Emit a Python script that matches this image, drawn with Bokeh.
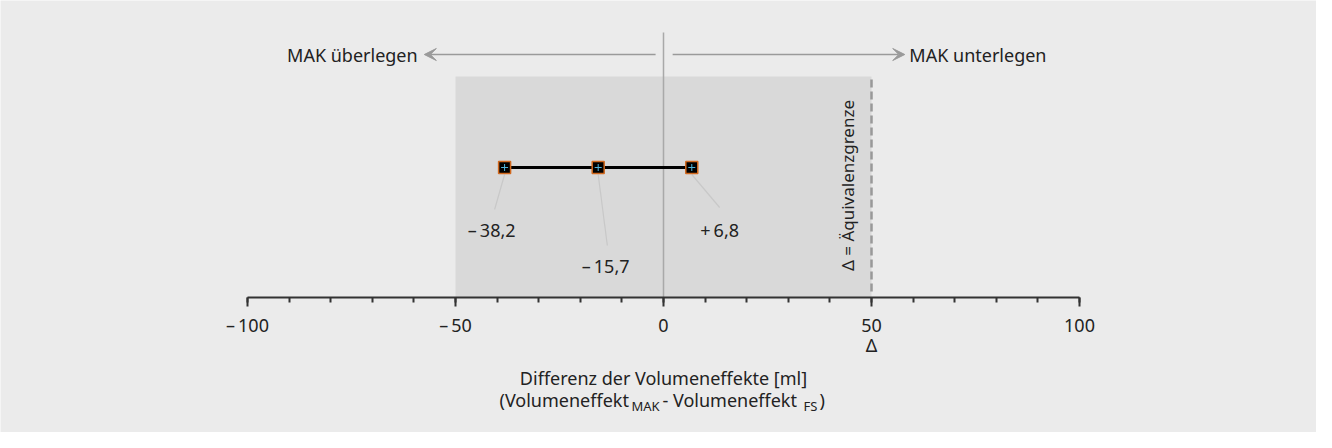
from bokeh.plotting import figure
from bokeh.models import (Range1d, LinearAxis, FixedTicker, Arrow, VeeHead)
from bokeh.core.properties import value
from bokeh.embed import file_html
from bokeh.resources import INLINE

# ---- data ----
estimates = [-38.2, -15.7, 6.8]          # lower CI, point estimate, upper CI
equivalence_limit = 50
tick_values = [-100, -50, 0, 50, 100]
tick_labels = ["\u2013\u2009100", "\u2013\u200950", "0", "50", "100"]
minor_ticks = list(range(-100, 101, 10))
point_labels = ["\u2013\u200938,2", "\u2013\u200915,7", "+\u20096,8"]
left_text = "MAK überlegen"
right_text = "MAK unterlegen"
limit_text = "\u0394 = Äquivalenzgrenze"
xlabel_line1 = "Differenz der Volumeneffekte [ml]"
xlabel_pieces = ["(Volumeneffekt", "MAK", " - Volumeneffekt", "FS", ")"]

FONT = "Noto Sans"
TXT = "#222222"
BG = "#ebebeb"
FS = "18px"

W, H = 1316, 432
scale = 832 / 200.0
x0 = -100 - (255 - 8) / scale
x1 = x0 + W / scale
p = figure(width=W, height=H, output_backend="svg", toolbar_location=None,
           x_range=Range1d(x0, x1), y_range=Range1d(305 - 440, 305 - 8),
           min_border=0, x_axis_type=None, y_axis_type=None)
p.outline_line_color = None
p.background_fill_color = BG
p.border_fill_color = BG
p.grid.visible = False

# equivalence region
p.quad(left=[-equivalence_limit], right=[equivalence_limit], bottom=[0], top=[221],
       fill_color="#d9d9d9", line_color=None)
# zero line
p.segment(x0=[0], y0=[0], x1=[0], y1=[265], line_color="#a9a9a9", line_width=1.5)
# equivalence limit dashed
p.segment(x0=[equivalence_limit], y0=[6], x1=[equivalence_limit], y1=[221],
          line_color="#999999", line_width=2.5, line_dash="8 4")
p.text(x=[44.3], y=[112], text=[limit_text], angle=1.5708, text_align="center",
       text_baseline="middle", text_font=value(FONT), text_font_size="17px", text_color=TXT)

# leader lines
lx_end = [-40.6, -13.5, 13.5]
ly_end = [88, 52, 90]
p.segment(x0=estimates, y0=[123, 123, 123], x1=lx_end, y1=ly_end,
          line_color="#c8c8c8", line_width=1.2)

# CI line and markers
py = [130, 130, 130]
p.line(x=[estimates[0], estimates[2]], y=[130, 130], line_color="black", line_width=3)
p.scatter(x=estimates, y=py, marker="square", size=12, fill_color="black",
          line_color="#d2691e", line_width=1.5)
p.scatter(x=estimates, y=py, marker="cross", size=7, line_color="#4fb3d9", line_width=1)

# point labels
p.text(x=[-41.3, -13.9, 13.5], y=[68, 32, 68], text=point_labels, text_align="center",
       text_baseline="middle", text_font=value(FONT), text_font_size=FS, text_color=TXT)

# top arrows
head = dict(size=12, fill_color="#9a9a9a", line_color="#9a9a9a")
p.add_layout(Arrow(x_start=-1.9, y_start=243, x_end=-57.5, y_end=243, line_color="#9a9a9a",
                   line_width=1.5, end=VeeHead(**head)))
p.add_layout(Arrow(x_start=2.2, y_start=243, x_end=58.0, y_end=243, line_color="#9a9a9a",
                   line_width=1.5, end=VeeHead(**head)))
p.text(x=[-59.1], y=[243], text=[left_text], text_align="right", text_baseline="middle",
       text_font=value(FONT), text_font_size=FS, text_color=TXT)
p.text(x=[59.1], y=[243], text=[right_text], text_align="left", text_baseline="middle",
       text_font=value(FONT), text_font_size=FS, text_color=TXT)

# x axis
ax = LinearAxis(fixed_location=0, bounds=(-100, 100),
                ticker=FixedTicker(ticks=tick_values, minor_ticks=minor_ticks))
ax.major_label_overrides = {v: l for v, l in zip(tick_values, tick_labels)}
ax.axis_line_color = "#333333"
ax.axis_line_width = 2
ax.major_tick_line_color = "#333333"
ax.major_tick_line_width = 2
ax.major_tick_in = 0
ax.major_tick_out = 9
ax.minor_tick_line_color = "#333333"
ax.minor_tick_line_width = 2
ax.minor_tick_in = 0
ax.minor_tick_out = 5
ax.major_label_text_font = FONT
ax.major_label_text_font_size = FS
ax.major_label_text_color = TXT
ax.major_label_standoff = 6
p.add_layout(ax, "below")

p.text(x=[equivalence_limit], y=[-47], text=["\u0394"], text_align="center", text_baseline="middle",
       text_font=value(FONT), text_font_size=FS, text_color=TXT)

# axis title
p.text(x=[0], y=[-80], text=[xlabel_line1], text_align="center", text_baseline="middle",
       text_font=value(FONT), text_font_size=FS, text_color=TXT)
px_left = [507, 639, 670, 811, 827]
pxs = [(x - 671) / scale for x in px_left]
pys = [-102, -108, -102, -108, -102]
sizes = [FS, "13px", FS, "13px", FS]
for t, xx, yy, s in zip(xlabel_pieces, pxs, pys, sizes):
    p.text(x=[xx], y=[yy], text=[t], text_align="left", text_baseline="middle",
           text_font=value(FONT), text_font_size=s, text_color=TXT)

open("out.html", "w").write(file_html(p, INLINE))
